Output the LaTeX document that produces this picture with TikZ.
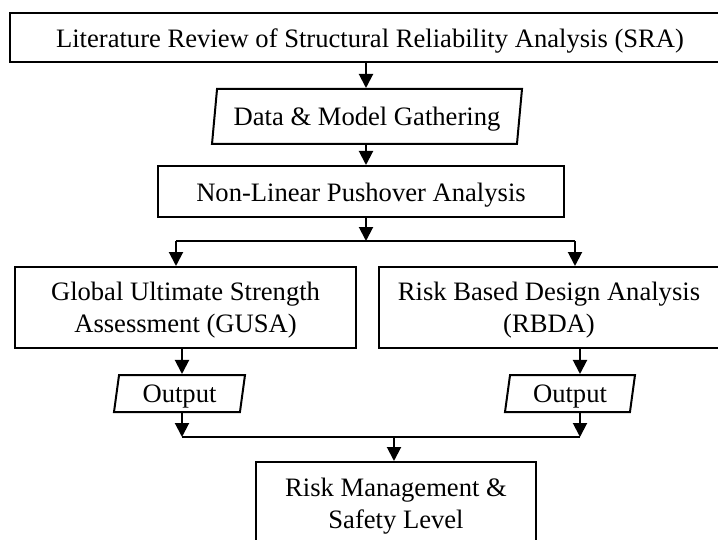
\documentclass[tikz,border=0pt]{standalone}
\usepackage{fontspec}
\setmainfont{Liberation Serif}
\usetikzlibrary{arrows.meta,shapes.geometric}

\begin{document}
\begin{tikzpicture}[->,x=.5pt,y=-.5pt,line width=1pt,
  >={Triangle[length=7pt,width=7pt]},
  blk/.style={draw,inner sep=0pt,align=center,text depth=0pt,font=\fontsize{13.3}{16}\selectfont},
  oneline/.style={text height=10pt},
  io/.style={trapezium,trapezium left angle=74,trapezium right angle=106,
    trapezium stretches body,draw,inner sep=0pt,text height=8.8pt,text depth=0pt,
    font=\fontsize{13.3}{16}\selectfont}]
   \useasboundingbox (0,0) rectangle (718,540);
   \clip (0,0) rectangle (718,540);

   \node[blk,oneline,minimum width=360pt,minimum height=24.5pt] (lit) at (370,37.5) {Literature Review of Structural Reliability Analysis (SRA)};
   \node[io,minimum width=155pt,minimum height=27.5pt] (data) at (367,116.5) {Data \& Model Gathering};
   \node[blk,oneline,minimum width=203pt,minimum height=25.5pt] (push) at (361,191.5) {Non-Linear Pushover Analysis};
   \node[blk,minimum width=170.5pt,minimum height=40.5pt] (gusa) at (185.5,307.5) {Global Ultimate Strength\\Assessment (GUSA)};
   \node[blk,minimum width=170pt,minimum height=40.5pt] (rbda) at (549,307.5) {Risk Based Design Analysis\\(RBDA)};
   \node[io,minimum width=65.5pt,minimum height=18.5pt] (out1) at (179.5,393.5) {Output};
   \node[io,minimum width=65pt,minimum height=18.5pt] (out2) at (570,393.5) {Output};
   \node[blk,minimum width=140pt,minimum height=41pt] (risk) at (396,503) {Risk Management \&\\Safety Level};

   \coordinate (sp) at (366,241);
   \coordinate (spl) at (176,241);
   \coordinate (spr) at (575,241);
   \coordinate (jl) at (182,437);
   \coordinate (jr) at (580,437);
   \coordinate (jm) at (394,437);

   \draw (lit.south -| sp) -- (sp |- data.north);
   \draw (data.south -| sp) -- (sp |- push.north);
   \draw (push.south -| sp) -- (sp);
   \draw[-] (spl) -- (spr);
   \draw (spl) -- (spl |- gusa.north);
   \draw (spr) -- (spr |- rbda.north);
   \draw (gusa.south -| jl) -- (jl |- out1.north);
   \draw (rbda.south -| jr) -- (jr |- out2.north);
   \draw (out1.south -| jl) -- (jl);
   \draw (out2.south -| jr) -- (jr);
   \draw[-] (jl) -- (jr);
   \draw (jm) -- (jm |- risk.north);
\end{tikzpicture}
\end{document}
